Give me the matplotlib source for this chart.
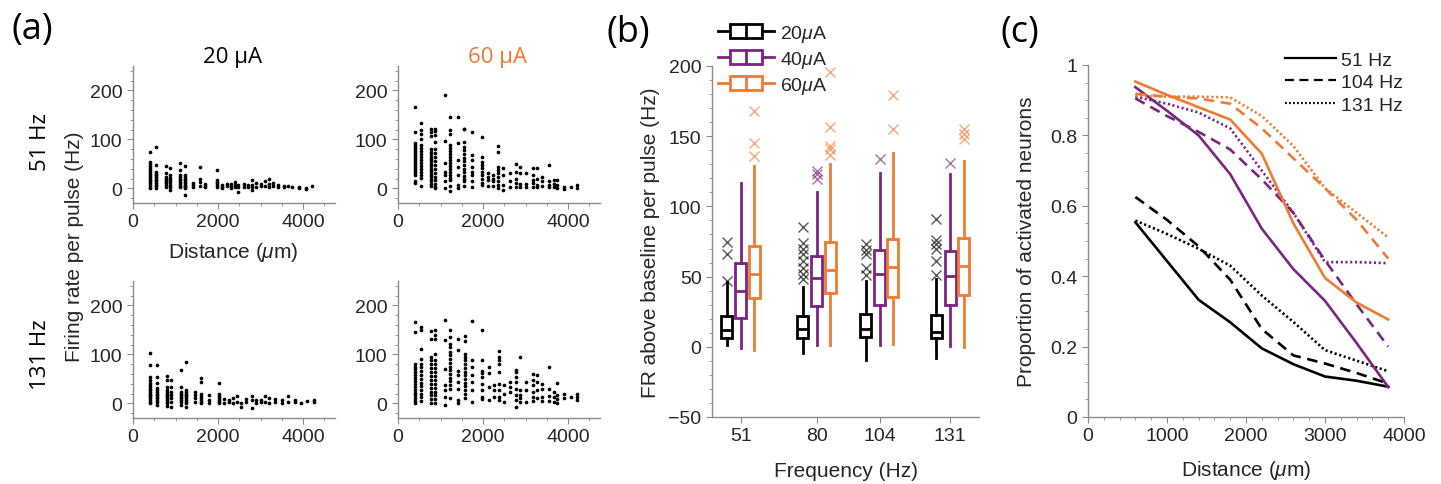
import matplotlib
matplotlib.use('Agg')
import matplotlib.pyplot as plt
from matplotlib.lines import Line2D
from matplotlib.patches import Rectangle
from matplotlib.ticker import MultipleLocator
from matplotlib.legend_handler import HandlerBase

plt.rcParams['font.family'] = ['Liberation Sans', 'DejaVu Sans']
plt.rcParams['mathtext.fontset'] = 'custom'
plt.rcParams['mathtext.rm'] = 'Liberation Sans'
plt.rcParams['mathtext.it'] = 'Liberation Sans:italic'

# ---------------- data: panel (a) scatter columns (distance um, firing rates Hz) ----------
cols_51hz_20ua = [
    (390, [75, 54, 50, 46, 42, 38, 34, 30, 26, 22, 18, 14, 10, 6, 3, 0]),
    (550, [85, 48, 34, 30, 27, 24, 20, 17, 14, 10, 7, 4, 0]),
    (770, [46, 31, 24, 20, 17, 13, 10, 6, 3]),
    (870, [41, 27, 22, 17, 12, 7, 3, -3]),
    (1100, [51, 37, 28, 24, 20, 16, 12, 9, 5, 2]),
    (1230, [46, 27, 24, 20, 16, 13, 10, 7, 5, 2, 0, -14]),
    (1400, [10, 6, 3]),
    (1580, [44, 20, 12, 5]),
    (1690, [9, 5, 2]),
    (1970, [37, 17, 13, 10, 6, 3]),
    (2100, [7, 3, 0]), (2200, [5, 8]), (2300, [9, 4, 0]), (2400, [12, 3, 7]),
    (2480, [7, -7, 2]), (2600, [9, 2]), (2700, [7, 3]), (2800, [17, 7, -3, 3]),
    (2900, [10, 3]), (3000, [9, 5]), (3100, [14, 5]), (3200, [20, 9, 3]),
    (3300, [10, 4]), (3400, [7, 2]), (3550, [5, 2]), (3650, [5]), (3750, [3]),
    (3900, [2, 0]), (4060, [0, -2]), (4200, [5]),
]
cols_51hz_60ua = [
    (390, [167, 115, 92, 88, 84, 80, 76, 72, 68, 64, 60, 56, 52, 48, 44, 40, 36, 32, 28, 14, 10]),
    (550, [133, 120, 111, 100, 88, 82, 76, 70, 64, 58, 52, 46, 40, 34, 28, 22, 5]),
    (770, [122, 116, 107, 80, 75, 70, 65, 60, 55, 50, 45, 40, 35, 30, 25, 20, 15, 8, 4]),
    (870, [122, 118, 109, 95, 80, 72, 64, 56, 48, 40, 32, 24, 16, 8, 3, 0]),
    (1100, [190, 97, 51, 34, 27, 14, 0]),
    (1230, [146, 119, 111, 88, 82, 76, 70, 64, 58, 52, 46, 40, 34, 28, 22, 17, 4, -5]),
    (1400, [146, 92, 58, 44, 27, 7, 1]),
    (1560, [122, 121, 95, 85, 78, 70, 62, 55, 47, 40, 33, 26, 20, 14, 4]),
    (1750, [116, 68, 58, 44, 34, 27, 14, 3]),
    (1985, [105, 63, 54, 48, 41, 34, 27, 20, 10, 7]),
    (2120, [31, 24, 17, 5]),
    (2240, [27, 20, 14, 5]),
    (2350, [86, 75, 44, 37, 31, 24, 14, 7, 0]),
    (2480, [41, 27, 7, -3]),
    (2640, [31, 14, 3]),
    (2770, [50, 34, 20, 10, 3]),
    (2870, [44, 31, 9, 2]),
    (3020, [31, 9, 3]),
    (3180, [41, 27, 17, 10, 3]),
    (3270, [41, 20, 7, 2]),
    (3380, [24, 14, 5]),
    (3540, [48, 14, 7, 3]),
    (3680, [16, 9, 2]),
    (3750, [17, 7, 0]),
    (3900, [2, -2]),
    (4060, [3]),
    (4200, [7, 0]),
]
cols_131hz_20ua = [
    (400, [103, 78, 54, 48, 41, 37, 34, 30, 27, 24, 20, 17, 14, 10, 7, 3, 0]),
    (570, [78, 54, 41, 31, 27, 24, 20, 17, 13, 10, 6, 3, -3]),
    (800, [56, 48, 34, 27, 23, 20, 17, 14, 10, 7, 3, 0, -5]),
    (900, [48, 34, 24, 17, 10, 3, -7]),
    (1140, [69, 34, 24, 20, 17, 13, 10, 6, 3, -3]),
    (1250, [85, 27, 23, 20, 17, 14, 10, 7, 3, 0, -7]),
    (1450, [24, 17, 10, 3]),
    (1610, [51, 44, 20, 14, 10, 7, 3, 0]),
    (1790, [17, 7, 0]),
    (2020, [42, 20, 14, 10, 7, 3, 0]),
    (2150, [8, 1]), (2250, [3, 6]), (2350, [10, 0]), (2450, [14, 3]), (2550, [1, -7]),
    (2650, [8, 3]), (2800, [14, 7, -10]), (2900, [7, 0]), (3000, [3, 6]), (3100, [14, 3]),
    (3200, [10, 0]), (3350, [8, 3]), (3500, [7, 0]), (3650, [14, 3]), (3800, [3, 6]),
    (3950, [0]), (4100, [5]), (4250, [7, 2]),
]
cols_131hz_60ua = [
    (390, [166, 146, 81, 75, 70, 64, 58, 52, 46, 40, 34, 28, 22, 16, 10, 5, 1]),
    (550, [156, 149, 112, 91, 81, 74, 66, 58, 50, 42, 35, 28, 20, 12, 5]),
    (770, [147, 132, 95, 88, 80, 72, 64, 56, 48, 40, 32, 24, 16, 8, 0]),
    (870, [150, 140, 132, 101, 88, 80, 72, 64, 56, 48, 40, 32, 24, 16, 8, 0]),
    (1100, [171, 129, 71, 37, 27, 13, -4]),
    (1230, [149, 135, 122, 115, 105, 98, 90, 82, 75, 68, 60, 52, 45, 38, 30, 10]),
    (1400, [132, 108, 67, 57, 44, 30, 6, 1]),
    (1580, [137, 128, 101, 95, 88, 80, 72, 65, 57, 50, 42, 35, 28, 20, 10]),
    (1750, [168, 88, 74, 57, 44, 27, 3]),
    (1985, [149, 88, 67, 61, 54, 40, 27, 13, 8]),
    (2140, [74, 61, 33, 6]),
    (2250, [37, 27, 13]),
    (2370, [106, 95, 88, 81, 64, 40, 27, 13, 6]),
    (2490, [37, 20, 3]),
    (2640, [44, 33, 23]),
    (2770, [69, 63, 54, 44, 29, 18, 6, -7]),
    (2870, [95, 27, 16, 10, 3]),
    (3020, [44, 27, 3]),
    (3180, [59, 47, 37, 23, 13, 4]),
    (3280, [57, 44, 27, 10]),
    (3380, [40, 30, 13, 4]),
    (3540, [74, 30, 15, 4]),
    (3680, [23, 13, 3]),
    (3750, [42, 18, 8, 1]),
    (3900, [20, 10]),
    (4060, [13]),
    (4200, [20, 13, 6]),
]

# ---------------- data: panel (b) box statistics ----------------
freqs = [51, 80, 104, 131]
currents = ['20', '40', '60']
q1_20 = [6.3, 6.3, 7.1, 6.6]
med_20 = [11.7, 12.4, 12.5, 10.6]
q3_20 = [21.8, 21.8, 23.6, 22.9]
lo_20 = [1.6, -4.7, -9.5, -8.3]
hi_20 = [45.8, 42.3, 47.0, 48.4]
out_20 = [[47, 66, 75], [48.6, 51.6, 56, 61, 66, 70, 74, 85], [51, 56, 66, 69, 73], [51, 61, 70, 73, 76, 91]]
q1_40 = [20.4, 29.3, 29.5, 29.5]
med_40 = [39.9, 49.3, 51.5, 50.3]
q3_40 = [59.4, 64.6, 69.2, 68.5]
lo_40 = [-1.2, 1.2, 1.1, 0.7]
hi_40 = [117, 110, 124, 123]
out_40 = [[], [119.5, 123, 125], [134], [131]]
q1_60 = [34.5, 38.5, 35.5, 36.6]
med_60 = [51.6, 55.0, 56.7, 57.2]
q3_60 = [72.0, 74.5, 76.8, 77.3]
lo_60 = [-2.3, 1.1, 2.3, -0.3]
hi_60 = [128.8, 130, 138.3, 132.3]
out_60 = [[136, 145.4, 167.8], [136.4, 140.6, 143, 156.7, 196], [155, 179.6], [147.7, 151.3, 154.8]]

# ---------------- data: panel (c) proportion of activated neurons ----------------
distance_c = [600, 1000, 1400, 1800, 2200, 2600, 3000, 3400, 3800]
p20_51 = [0.553, 0.443, 0.333, 0.269, 0.195, 0.150, 0.115, 0.103, 0.086]
p20_104 = [0.625, 0.560, 0.485, 0.390, 0.250, 0.175, 0.152, 0.125, 0.095]
p20_131 = [0.558, 0.520, 0.478, 0.430, 0.345, 0.270, 0.190, 0.160, 0.130]
p40_51 = [0.937, 0.870, 0.800, 0.690, 0.535, 0.420, 0.330, 0.210, 0.085]
p40_104 = [0.905, 0.855, 0.810, 0.760, 0.675, 0.580, 0.445, 0.320, 0.200]
p40_131 = [0.910, 0.890, 0.865, 0.820, 0.700, 0.580, 0.440, 0.440, 0.437]
p60_51 = [0.953, 0.915, 0.880, 0.845, 0.748, 0.550, 0.395, 0.325, 0.277]
p60_104 = [0.918, 0.910, 0.905, 0.890, 0.820, 0.735, 0.650, 0.560, 0.450]
p60_131 = [0.913, 0.910, 0.910, 0.908, 0.855, 0.770, 0.650, 0.580, 0.510]

BLACK = '#000000'
PURPLE = '#7B2580'
ORANGE = '#F07A32'
SPINE = '#8c8c8c'
TXT = '#262626'
BOX_LW = 2.0

W, H = 1441, 485
fig = plt.figure(figsize=(W / 100, H / 100), dpi=100)


def rect(x0, y0, x1, y1):
    return [x0 / W, 1 - y1 / H, (x1 - x0) / W, (y1 - y0) / H]


def style_axes(ax, fs):
    for s in ['top', 'right']:
        ax.spines[s].set_visible(False)
    for s in ['left', 'bottom']:
        ax.spines[s].set_color(SPINE)
        ax.spines[s].set_linewidth(1.0)
    ax.tick_params(which='both', direction='out', colors=SPINE, labelcolor=TXT, labelsize=fs)
    ax.tick_params(which='major', length=4)
    ax.tick_params(which='minor', length=2.5)


def flatten(cols):
    xs, ys = [], []
    for d, vals in cols:
        xs += [d] * len(vals)
        ys += vals
    return xs, ys


# ---------------- panel (a) ----------------
scatter_specs = [
    (cols_51hz_20ua, rect(133, 67, 335, 204)),
    (cols_51hz_60ua, rect(398, 67, 600, 204)),
    (cols_131hz_20ua, rect(133, 282, 335, 419)),
    (cols_131hz_60ua, rect(398, 282, 600, 419)),
]
for cols, r in scatter_specs:
    ax = fig.add_axes(r)
    xs, ys = flatten(cols)
    ax.scatter(xs, ys, s=7, color='k', linewidths=0)
    ax.set_xlim(0, 4750)
    ax.set_ylim(-30, 250)
    ax.set_xticks([0, 2000, 4000])
    ax.set_yticks([0, 100, 200])
    ax.xaxis.set_minor_locator(MultipleLocator(500))
    ax.yaxis.set_minor_locator(MultipleLocator(20))
    style_axes(ax, 14)

fig.text(32 / W, 1 - 30 / H, '(a)', fontsize=26, family='Open Sans', ha='center', va='center')
fig.text(233 / W, 1 - 57 / H, '20 µA', fontsize=16, family='Open Sans', ha='center', va='center')
fig.text(498 / W, 1 - 57 / H, '60 µA', fontsize=16, family='Open Sans', ha='center', va='center', color=ORANGE)
fig.text(40 / W, 1 - 142 / H, '51 Hz', fontsize=16, family='Open Sans', ha='center', va='center', rotation=90)
fig.text(41 / W, 1 - 355 / H, '131 Hz', fontsize=16, family='Open Sans', ha='center', va='center', rotation=90)
fig.text(74 / W, 1 - 247 / H, 'Firing rate per pulse (Hz)', fontsize=15, ha='center', va='center',
         rotation=90, color=TXT)
fig.text(233 / W, 1 - 252 / H, r'Distance ($\mu$m)', fontsize=15, ha='center', va='center', color=TXT)

# ---------------- panel (b) ----------------
axb = fig.add_axes(rect(712, 67, 979, 418))
group_stats = [
    (q1_20, med_20, q3_20, lo_20, hi_20, out_20, BLACK, -5.3),
    (q1_40, med_40, q3_40, lo_40, hi_40, out_40, PURPLE, 0.0),
    (q1_60, med_60, q3_60, lo_60, hi_60, out_60, ORANGE, 5.1),
]
for q1, med, q3, lo, hi, outs, col, off in group_stats:
    stats = []
    for i in range(len(freqs)):
        stats.append(dict(med=med[i], q1=q1[i], q3=q3[i], whislo=lo[i], whishi=hi[i], fliers=outs[i]))
    axb.bxp(stats, positions=[f + off for f in freqs], widths=4.2, showcaps=False,
            patch_artist=True, manage_ticks=False,
            boxprops=dict(facecolor='white', edgecolor=col, linewidth=BOX_LW),
            medianprops=dict(color=col, linewidth=BOX_LW),
            whiskerprops=dict(color=col, linewidth=BOX_LW),
            flierprops=dict(marker='x', markeredgecolor=col, markersize=6.5, markeredgewidth=1.0, alpha=0.65))
axb.set_xlim(40, 142)
axb.set_ylim(-50, 200)
axb.set_xticks(freqs)
axb.set_yticks([-50, 0, 50, 100, 150, 200])
axb.yaxis.set_minor_locator(MultipleLocator(10))
style_axes(axb, 14)
axb.set_xlabel('Frequency (Hz)', fontsize=15, color=TXT, labelpad=12)
axb.set_ylabel('FR above baseline per pulse (Hz)', fontsize=15, color=TXT, labelpad=6)


class BoxHandler(HandlerBase):
    def create_artists(self, legend, orig_handle, xdescent, ydescent, width, height, fontsize, trans):
        c = orig_handle.get_color()
        x0, y0 = -xdescent, -ydescent
        bl, br = x0 + width * 0.22, x0 + width * 0.78
        yc = y0 + height / 2
        bh = height * 0.95
        a1 = Line2D([x0, bl], [yc, yc], color=c, lw=BOX_LW, transform=trans)
        r = Rectangle((bl, yc - bh / 2), br - bl, bh, facecolor='white', edgecolor=c, lw=BOX_LW, transform=trans)
        m = Line2D([(bl + br) / 2] * 2, [yc - bh / 2, yc + bh / 2], color=c, lw=BOX_LW, transform=trans)
        a2 = Line2D([br, x0 + width], [yc, yc], color=c, lw=BOX_LW, transform=trans)
        return [a1, r, m, a2]


box_handles = [Line2D([], [], color=c) for c in (BLACK, PURPLE, ORANGE)]
fig.legend(box_handles, [c + r'$\mu$A' for c in currents], handler_map={Line2D: BoxHandler()},
           loc='upper left', bbox_to_anchor=(718 / W, 1 - 24 / H), frameon=False, fontsize=14,
           handlelength=2.9, handleheight=0.75, handletextpad=0.3, labelspacing=0.25,
           borderpad=0, borderaxespad=0, labelcolor=TXT)
fig.text(628 / W, 1 - 33 / H, '(b)', fontsize=26, family='Open Sans', ha='center', va='center')

# ---------------- panel (c) ----------------
axc = fig.add_axes(rect(1088, 66, 1404, 418))
line_specs = [
    (p20_51, BLACK, '-'), (p20_104, BLACK, '--'), (p20_131, BLACK, ':'),
    (p40_51, PURPLE, '-'), (p40_104, PURPLE, '--'), (p40_131, PURPLE, ':'),
    (p60_51, ORANGE, '-'), (p60_104, ORANGE, '--'), (p60_131, ORANGE, ':'),
]
for vals, col, ls in line_specs:
    ln, = axc.plot(distance_c, vals, color=col, lw=1.9, linestyle=ls)
    if ls == '--':
        ln.set_dashes((4, 2.5))
    elif ls == ':':
        ln.set_dashes((0.8, 1.0))
axc.set_xlim(0, 4000)
axc.set_ylim(0, 1)
axc.set_xticks([0, 1000, 2000, 3000, 4000])
axc.set_yticks([0, 0.2, 0.4, 0.6, 0.8, 1.0])
axc.set_yticklabels(['0', '0.2', '0.4', '0.6', '0.8', '1'])
axc.xaxis.set_minor_locator(MultipleLocator(200))
axc.yaxis.set_minor_locator(MultipleLocator(0.05))
style_axes(axc, 14)
axc.set_xlabel(r'Distance ($\mu$m)', fontsize=15, color=TXT, labelpad=10)
axc.set_ylabel('Proportion of activated neurons', fontsize=15, color=TXT, labelpad=10)

freq_handles = [Line2D([], [], color='k', lw=1.6, linestyle='-'),
                Line2D([], [], color='k', lw=1.6, dashes=(4, 2.5)),
                Line2D([], [], color='k', lw=1.6, dashes=(0.8, 1.0))]
fig.legend(freq_handles, ['51 Hz', '104 Hz', '131 Hz'], loc='upper left',
           bbox_to_anchor=(1285 / W, 1 - 52 / H), frameon=False, fontsize=14,
           handlelength=2.6, handletextpad=0.3, labelspacing=0.25, borderpad=0, borderaxespad=0,
           labelcolor=TXT)
fig.text(1020 / W, 1 - 33 / H, '(c)', fontsize=26, family='Open Sans', ha='center', va='center')

fig.savefig('out.png', dpi=100)
